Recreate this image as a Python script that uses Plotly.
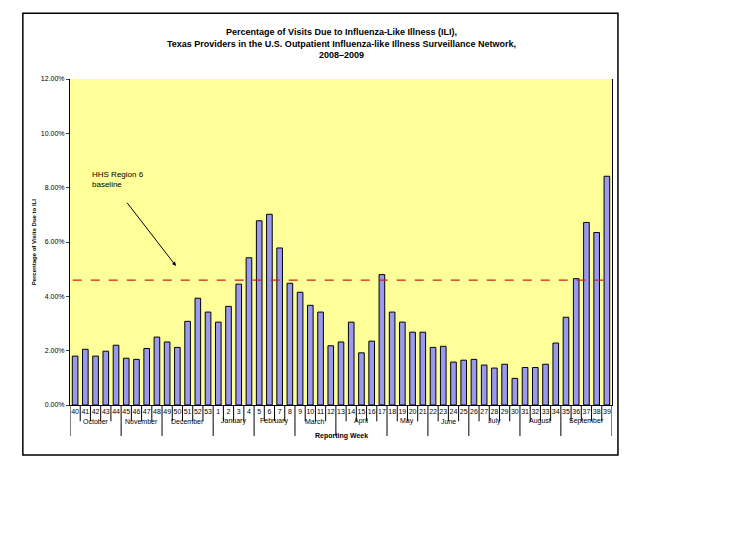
import plotly.graph_objects as go

weeks = [40, 41, 42, 43, 44, 45, 46, 47, 48, 49, 50, 51, 52, 53] + list(range(1, 40))
ili_pct = [1.80, 2.05, 1.80, 1.98, 2.20, 1.72, 1.68, 2.08, 2.50, 2.32, 2.12, 3.08, 3.93, 3.42,
           3.05, 3.63, 4.45, 5.42, 6.78, 7.02, 5.78, 4.48, 4.15, 3.67, 3.42, 2.18, 2.32, 3.05,
           1.92, 2.35, 4.80, 3.42, 3.05, 2.68, 2.68, 2.12, 2.16, 1.58, 1.65, 1.68, 1.47, 1.36,
           1.50, 0.98, 1.38, 1.38, 1.50, 2.28, 3.23, 4.65, 6.72, 6.35, 8.42]
months = ["October", "November", "December", "January", "February", "March",
          "April", "May", "June", "July", "August", "September"]
month_weeks = [5, 4, 5, 4, 4, 4, 5, 4, 4, 5, 4, 5]
baseline = 4.6

n = len(weeks)
xs = list(range(n))
fig = go.Figure(go.Bar(x=xs, y=ili_pct, marker_color="#9999ee",
                       marker_line_color="black", marker_line_width=1, width=0.55))

shapes = []
# week cell dividers
for i in range(n + 1):
    shapes.append(dict(type="line", xref="x", yref="paper", x0=i - 0.5, x1=i - 0.5,
                       y0=0, y1=-0.05, line=dict(color="black", width=1)))
# month dividers and labels
annotations = []
start = 0
for m, k in zip(months, month_weeks):
    shapes.append(dict(type="line", xref="x", yref="paper", x0=start - 0.5, x1=start - 0.5,
                       y0=-0.05, y1=-0.095, line=dict(color="black", width=1)))
    annotations.append(dict(x=start + (k - 1) / 2, y=-0.068, xref="x", yref="paper",
                            text=m, showarrow=False, font=dict(size=7, color="black")))
    start += k
shapes.append(dict(type="line", xref="x", yref="paper", x0=n - 0.5, x1=n - 0.5,
                   y0=-0.05, y1=-0.095, line=dict(color="black", width=1)))
# baseline
shapes.append(dict(type="line", xref="paper", yref="y", x0=0.005, x1=1, y0=baseline, y1=baseline,
                   line=dict(color="#cc2222", width=1.3, dash="dash")))
# outer border
shapes.append(dict(type="rect", xref="paper", yref="paper", x0=-0.087, x1=1.011, y0=-0.153, y1=1.202,
                   line=dict(color="black", width=1.5)))

annotations += [
    dict(x=9.86, y=5.12, ax=4.97, ay=7.5, axref="x", ayref="y", xref="x", yref="y",
         text="", showarrow=True, arrowhead=2, arrowsize=0.8, arrowwidth=1, arrowcolor="black"),
    dict(x=1.5, y=8.3, xref="x", yref="y", xanchor="left", align="left", showarrow=False,
         text="HHS Region 6<br>baseline", font=dict(size=8)),
    dict(x=0.5, y=1.165, xref="paper", yref="paper", showarrow=False,
         text="<b>Percentage of Visits Due to Influenza-Like Illness (ILI),<br>"
              "Texas Providers in the U.S. Outpatient Influenza-like Illness Surveillance Network,<br>"
              "2008–2009</b>", font=dict(size=9)),
    dict(x=0.5, y=-0.115, xref="paper", yref="paper", showarrow=False,
         text="<b>Reporting Week</b>", font=dict(size=7)),
    dict(x=-0.075, y=0.5, xref="paper", yref="paper", showarrow=False, textangle=-90,
         text="<b>Percentage of Visits Due to ILI</b>", font=dict(size=6)),
]

fig.update_layout(
    width=752, height=538, margin=dict(l=62, r=148, t=71, b=141),
    paper_bgcolor="white", plot_bgcolor="#ffff99",
    font=dict(family="Arial", color="black"),
    showlegend=False, shapes=shapes, annotations=annotations, bargap=0.45,
)
fig.update_xaxes(range=[-0.5, n - 0.5], tickvals=xs, ticktext=[str(w) for w in weeks],
                 tickangle=0, tickfont=dict(size=7), ticks="", showgrid=False, automargin=False,
                 showline=True, linecolor="black", zeroline=False)
fig.update_yaxes(range=[0, 12], dtick=2, tickformat=".2f", ticksuffix="%", automargin=False,
                 tickfont=dict(size=7), showgrid=False, ticks="outside", ticklen=3,
                 showline=True, linecolor="black", mirror=True)
fig.write_html("out.html")
